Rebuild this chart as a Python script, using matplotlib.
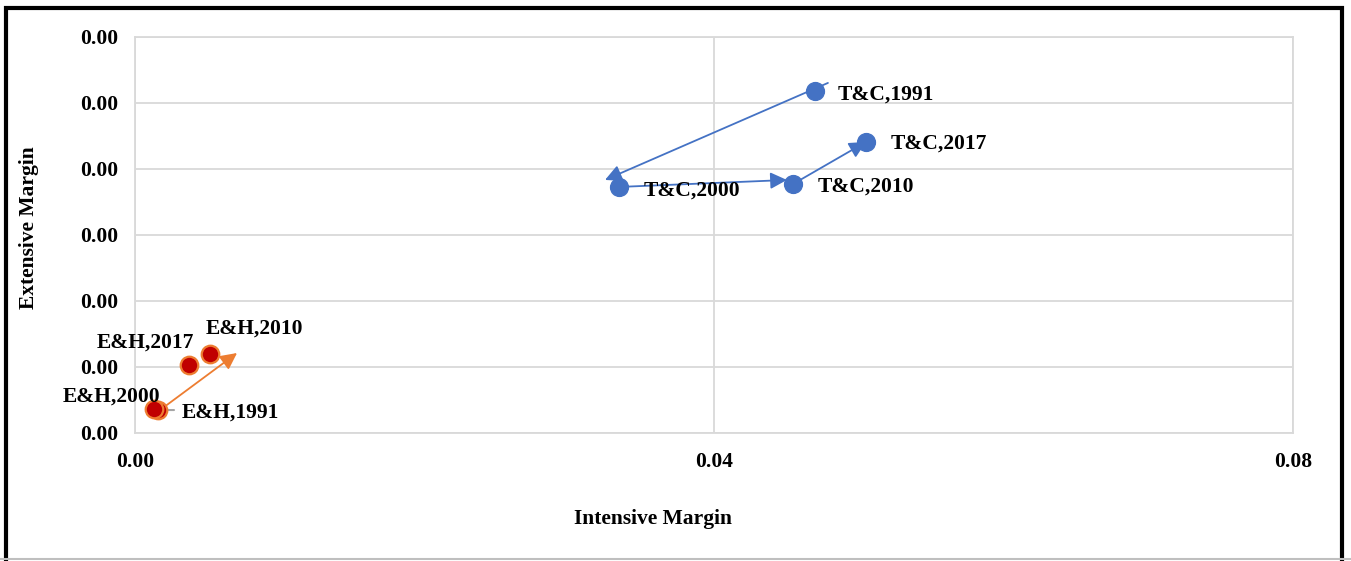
import matplotlib.pyplot as plt
from matplotlib.patches import Rectangle
from matplotlib.lines import Line2D
from matplotlib.ticker import FormatStrFormatter

# Textiles & clothing (T&C) and electronics & hardware (E&H) margins by year
tc_years = ["1991", "2000", "2010", "2017"]
tc_intensive = [0.04698, 0.03344, 0.04546, 0.05050]
tc_extensive = [0.002591, 0.001864, 0.001886, 0.002205]

eh_years = ["1991", "2000", "2010", "2017"]
eh_intensive = [0.00159, 0.00131, 0.00518, 0.00373]
eh_extensive = [0.000174, 0.000182, 0.000598, 0.000515]

# trajectory arrows (start -> end, data units)
tc_arrows = [((0.04787, 0.002652), (0.03247, 0.001917)),
             ((0.03344, 0.001864), (0.04504, 0.001917)),
             ((0.04546, 0.001886), (0.05050, 0.002205))]
eh_arrows = [((0.00173, 0.000174), (0.00705, 0.000606))]

BLUE = "#4472C4"
RED = "#C00000"
ORANGE = "#ED7D31"
GRID = "#D9D9D9"
FONT = "Liberation Serif"

fig = plt.figure(figsize=(13.51, 5.61), dpi=100)
ax = fig.add_axes([135 / 1351, 128 / 561, 1158 / 1351, 396 / 561])

head = "-|>,head_length=1.0,head_width=0.5"
for (x0, y0), (x1, y1) in tc_arrows:
    ax.annotate("", xy=(x1, y1), xytext=(x0, y0),
                arrowprops=dict(arrowstyle=head, color=BLUE, lw=1.3,
                                shrinkA=0, shrinkB=0), zorder=2)
for (x0, y0), (x1, y1) in eh_arrows:
    ax.annotate("", xy=(x1, y1), xytext=(x0, y0),
                arrowprops=dict(arrowstyle=head, color=ORANGE, lw=1.3,
                                shrinkA=0, shrinkB=0), zorder=2)

ax.scatter(tc_intensive, tc_extensive, s=165, color=BLUE, zorder=3)
ax.scatter(eh_intensive, eh_extensive, s=160, color=RED, edgecolor=ORANGE,
           linewidth=1.6, zorder=3)

label_kw = dict(textcoords="offset pixels", fontsize=15.5, fontweight="bold",
                family=FONT, va="center", zorder=4)

tc_offsets = [(23, -4), (25, -4), (25, -3), (25, -2)]
for yr, x, y, off in zip(tc_years, tc_intensive, tc_extensive, tc_offsets):
    ax.annotate(f"T&C,{yr}", (x, y), xytext=off, ha="left", **label_kw)

eh_offsets = [(24, -3), (-42, 12), (44, 25), (-44, 22)]
eh_align = ["left", "center", "center", "center"]
for yr, x, y, off, ha in zip(eh_years, eh_intensive, eh_extensive, eh_offsets, eh_align):
    ax.annotate(f"E&H,{yr}", (x, y), xytext=off, ha=ha, **label_kw)

# leader line for the E&H 1991 label
ax.annotate("", (eh_intensive[0], eh_extensive[0]), xytext=(16, 0),
            textcoords="offset pixels",
            arrowprops=dict(arrowstyle="-", color="#A5A5A5", lw=1.5,
                            shrinkA=0, shrinkB=0), zorder=2)

ax.set_xlim(0, 0.08)
ax.set_ylim(0, 0.003)
ax.set_xticks([0, 0.04, 0.08])
ax.set_yticks([0, 0.0005, 0.001, 0.0015, 0.002, 0.0025, 0.003])
ax.xaxis.set_major_formatter(FormatStrFormatter("%.2f"))
ax.yaxis.set_major_formatter(FormatStrFormatter("%.2f"))
ax.grid(True, color=GRID, lw=1.3)
ax.set_axisbelow(True)
for s in ax.spines.values():
    s.set_color(GRID)
    s.set_linewidth(1.3)
ax.tick_params(length=0, pad=12)
ax.tick_params(axis="x", pad=14)
for lbl in ax.get_xticklabels() + ax.get_yticklabels():
    lbl.set_fontfamily(FONT)
    lbl.set_fontweight("bold")
    lbl.set_fontsize(15.5)

ax.set_xlabel("Intensive Margin", family=FONT, fontweight="bold", fontsize=15.5)
ax.set_ylabel("Extensive Margin", family=FONT, fontweight="bold", fontsize=15.5)
ax.xaxis.set_label_coords((653 - 135) / 1158, -(519 - 433) / 396)
ax.yaxis.set_label_coords(-(135 - 29) / 1158, (433 - 228) / 396)
ax.xaxis.label.set_va("center")
ax.yaxis.label.set_va("center")

# chart frame
fig.patches.append(Rectangle((6 / 1351, -0.05), 1336 / 1351, 1.05 - 8 / 561,
                             transform=fig.transFigure, fill=False,
                             edgecolor="black", lw=3))
fig.lines.append(Line2D([0, 1], [2 / 561, 2 / 561], transform=fig.transFigure,
                        color="#BFBFBF", lw=1.5))

fig.savefig("out.png", dpi=100)
